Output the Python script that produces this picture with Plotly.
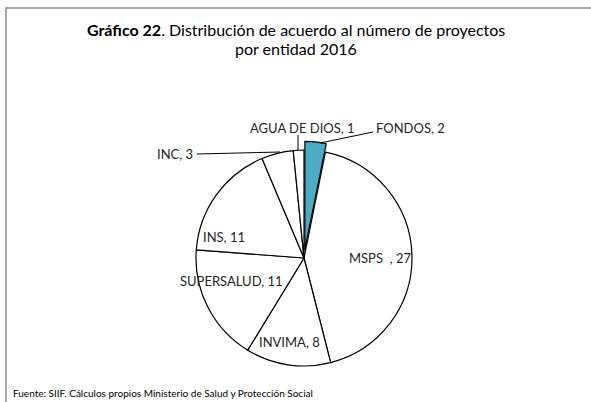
import plotly.graph_objects as go

# ---- data ----
categories = ["FONDOS", "MSPS ", "INVIMA", "SUPERSALUD", "INS", "INC", "AGUA DE DIOS"]
values = [2, 27, 8, 11, 11, 3, 1]
colors = ["#4BACC6", "white", "white", "white", "white", "white", "white"]
pulls = [0.08, 0, 0, 0, 0, 0, 0]

title_bold = "Gráfico 22"
title_rest = ". Distribución de acuerdo al número de proyectos"
title_line2 = "por entidad 2016"
source_text = "Fuente: SIIF. Cálculos propios Ministerio de Salud y Protección Social"

W, H = 591, 402
FONT = "Lato"


def px(x):
    return x / W


def py(y):
    return 1 - y / H


# pie geometry (pixels)
cx, cy, r = 304, 258, 108
half = r * (1 + max(pulls))

fig = go.Figure()
fig.add_trace(go.Pie(
    labels=categories,
    values=values,
    sort=False,
    direction="clockwise",
    rotation=0,
    pull=pulls,
    marker=dict(colors=colors, line=dict(color="black", width=1.2)),
    textinfo="none",
    hoverinfo="label+value",
    showlegend=False,
    domain=dict(x=[px(cx - half), px(cx + half)], y=[py(cy + half), py(cy - half)]),
))

# label positions (pixels, centre of text) and leader lines
label_pos = {
    "FONDOS": (410, 128),
    "MSPS ": (380, 258),
    "INVIMA": (289, 342),
    "SUPERSALUD": (232, 281),
    "INS": (224, 237),
    "INC": (175, 154),
    "AGUA DE DIOS": (302, 128),
}
leaders = [
    ((320, 143), (373, 132)),
    ((298, 150), (298, 135)),
    ((280, 152), (197, 154)),
]

annotations = []
for cat, val in zip(categories, values):
    x, y = label_pos[cat]
    txt = f"{cat.strip()}&nbsp;&nbsp;, {val}" if cat.endswith(" ") else f"{cat}, {val}"
    annotations.append(dict(
        x=px(x), y=py(y), xref="paper", yref="paper",
        text=txt,
        showarrow=False, xanchor="center", yanchor="middle",
        font=dict(family=FONT, size=13, color="#262626"),
    ))

annotations.append(dict(
    x=px(296), y=py(30), xref="paper", yref="paper",
    text=f"<b>{title_bold}</b>{title_rest}", showarrow=False,
    xanchor="center", yanchor="middle",
    font=dict(family=FONT, size=16, color="black"),
))
annotations.append(dict(
    x=px(296), y=py(49), xref="paper", yref="paper",
    text=title_line2, showarrow=False,
    xanchor="center", yanchor="middle",
    font=dict(family=FONT, size=16, color="black"),
))
annotations.append(dict(
    x=px(11), y=py(393), xref="paper", yref="paper",
    text=source_text, showarrow=False,
    xanchor="left", yanchor="middle",
    font=dict(family=FONT, size=10, color="black"),
))

shapes = [dict(
    type="rect", xref="paper", yref="paper",
    x0=px(6), x1=px(600), y0=py(420), y1=py(8),
    line=dict(color="#8c8c8c", width=1.5), fillcolor="rgba(0,0,0,0)",
)]
for (x0, y0), (x1, y1) in leaders:
    shapes.append(dict(
        type="line", xref="paper", yref="paper",
        x0=px(x0), y0=py(y0), x1=px(x1), y1=py(y1),
        line=dict(color="black", width=1),
    ))

fig.update_layout(
    width=W, height=H,
    margin=dict(l=0, r=0, t=0, b=0),
    paper_bgcolor="white", plot_bgcolor="white",
    annotations=annotations,
    shapes=shapes,
)

fig.write_html(
    "out.html",
    config={"displayModeBar": False},
    post_script="document.body.style.margin='0';document.body.style.padding='0';document.body.style.overflow='hidden';",
)
